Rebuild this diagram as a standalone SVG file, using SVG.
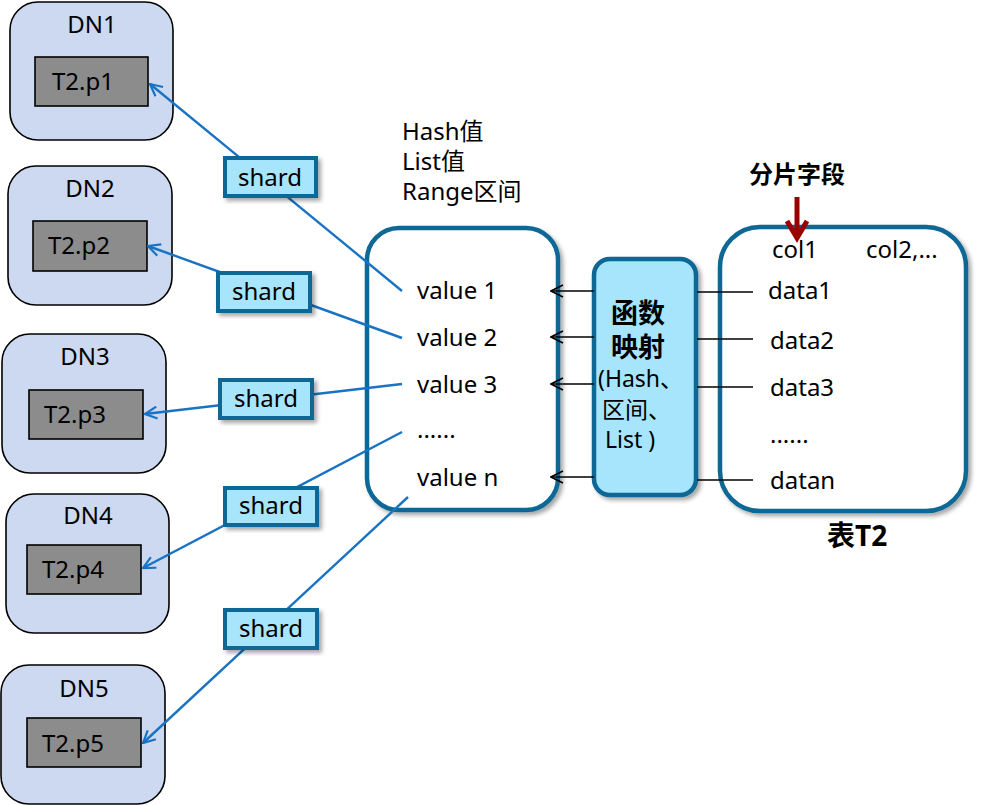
<svg xmlns="http://www.w3.org/2000/svg" width="982" height="805" viewBox="0 0 982 805">
<style>
text{font-family:"Noto Sans","Noto Sans CJK SC",sans-serif;font-size:24px;fill:#000}
.dn{fill:#ccd9f0;stroke:#000;stroke-width:1.6}
.part{fill:#8c8c8c;stroke:#000;stroke-width:1.6}
.shard rect{fill:#a6e5fb;stroke:#0d6796;stroke-width:4}
.big{fill:#fff;stroke:#0d6796;stroke-width:4.5}
.fn{fill:#a6e5fb;stroke:#0d6796;stroke-width:4.5}
.blue{stroke:#1a73c2;stroke-width:2.4;fill:none}
.blk{stroke:#000;stroke-width:1.6;fill:none}
.mid{text-anchor:middle}
.b{font-weight:bold}
</style>
<defs>
<filter id="sh" x="-10%" y="-10%" width="130%" height="130%">
<feDropShadow dx="3" dy="3" stdDeviation="2" flood-color="#000" flood-opacity="0.35"/>
</filter>
<marker id="ab" viewBox="0 0 14 14" refX="13" refY="7" markerWidth="14" markerHeight="14" markerUnits="userSpaceOnUse" orient="auto">
<path d="M1,1 L13,7 L1,13" fill="none" stroke="#1a73c2" stroke-width="2.2"/>
</marker>
<marker id="ak" viewBox="0 0 14 14" refX="13" refY="7" markerWidth="14" markerHeight="14" markerUnits="userSpaceOnUse" orient="auto">
<path d="M1,1 L13,7 L1,13" fill="none" stroke="#000" stroke-width="1.6"/>
</marker>
</defs>

<g id="dn1"><rect class="dn" x="10" y="2" width="163" height="138" rx="28"/><text class="mid" x="92" y="33">DN1</text><rect class="part" x="35" y="57" width="113" height="49"/><text x="52" y="90">T2.p1</text></g>
<g id="dn2"><rect class="dn" x="8" y="166" width="164" height="139" rx="28"/><text class="mid" x="90" y="197">DN2</text><rect class="part" x="33" y="221" width="114" height="50"/><text x="48" y="254">T2.p2</text></g>
<g id="dn3"><rect class="dn" x="2" y="334" width="164" height="139" rx="28"/><text class="mid" x="85" y="365">DN3</text><rect class="part" x="29" y="390" width="114" height="49"/><text x="44" y="423">T2.p3</text></g>
<g id="dn4"><rect class="dn" x="6" y="494" width="163" height="139" rx="28"/><text class="mid" x="88" y="524">DN4</text><rect class="part" x="27" y="545" width="114" height="49"/><text x="42" y="578">T2.p4</text></g>
<g id="dn5"><rect class="dn" x="1" y="665" width="164" height="139" rx="28"/><text class="mid" x="84" y="697">DN5</text><rect class="part" x="27" y="718" width="114" height="49"/><text x="42" y="752">T2.p5</text></g>

<g id="ranges"><text x="402" y="140">Hash值</text><text x="402" y="170">List值</text><text x="402" y="200">Range区间</text></g>

<g id="values"><rect class="big" filter="url(#sh)" x="367" y="228" width="191" height="282" rx="32"/>
<text x="417" y="299">value 1</text><text x="417" y="346">value 2</text><text x="417" y="393">value 3</text><text x="417" y="438">......</text><text x="417" y="486">value n</text></g>

<g id="func"><rect class="fn" filter="url(#sh)" x="594" y="259" width="102" height="236" rx="16"/>
<text class="b mid" x="638" y="323" style="font-size:27px">函数</text><text class="b mid" x="638" y="357" style="font-size:27px">映射</text>
<text x="598" y="387" style="font-size:23px">(Hash、</text><text x="602" y="418" style="font-size:23px">区间、</text><text x="605" y="448" style="font-size:23px">List )</text></g>

<g id="table"><rect class="big" filter="url(#sh)" x="720" y="227" width="246" height="284" rx="40"/>
<text x="772" y="258">col1</text><text x="866" y="258">col2,...</text>
<text x="768" y="299">data1</text><text x="770" y="349">data2</text><text x="770" y="396">data3</text><text x="770" y="443">......</text><text x="770" y="489">datan</text></g>

<g id="key"><text class="b" x="749" y="183">分片字段</text>
<path d="M797,197 V238" stroke="#990000" stroke-width="5" fill="none"/><path d="M787,221 L797,238 L807,221" stroke="#990000" stroke-width="5" fill="none" stroke-linejoin="miter"/></g>
<g id="t2label"><text class="b" x="827" y="546" style="font-size:28px">表T2</text></g>

<g id="connectors">
<line class="blue" x1="402" y1="291" x2="150" y2="84" marker-end="url(#ab)"/>
<line class="blue" x1="402" y1="338" x2="148" y2="246" marker-end="url(#ab)"/>
<line class="blue" x1="402" y1="384" x2="145" y2="414" marker-end="url(#ab)"/>
<line class="blue" x1="402" y1="432" x2="143" y2="568" marker-end="url(#ab)"/>
<line class="blue" x1="408" y1="497" x2="143" y2="743" marker-end="url(#ab)"/>
<line class="blk" x1="594" y1="291" x2="551" y2="291" marker-end="url(#ak)"/>
<line class="blk" x1="594" y1="337" x2="551" y2="337" marker-end="url(#ak)"/>
<line class="blk" x1="594" y1="384" x2="551" y2="384" marker-end="url(#ak)"/>
<line class="blk" x1="594" y1="477" x2="551" y2="477" marker-end="url(#ak)"/>
<line class="blk" x1="697" y1="292" x2="753" y2="292"/>
<line class="blk" x1="697" y1="339" x2="753" y2="339"/>
<line class="blk" x1="697" y1="387" x2="753" y2="387"/>
<line class="blk" x1="697" y1="480" x2="753" y2="480"/>
</g>

<g id="shard1" class="shard"><rect filter="url(#sh)" x="225" y="158" width="91" height="38"/><text class="mid" x="270" y="186">shard</text></g>
<g id="shard2" class="shard"><rect filter="url(#sh)" x="218" y="273" width="92" height="38"/><text class="mid" x="264" y="300">shard</text></g>
<g id="shard3" class="shard"><rect filter="url(#sh)" x="220" y="380" width="92" height="38"/><text class="mid" x="266" y="407">shard</text></g>
<g id="shard4" class="shard"><rect filter="url(#sh)" x="225" y="488" width="92" height="37"/><text class="mid" x="271" y="514">shard</text></g>
<g id="shard5" class="shard"><rect filter="url(#sh)" x="225" y="610" width="92" height="38"/><text class="mid" x="271" y="637">shard</text></g>
</svg>
